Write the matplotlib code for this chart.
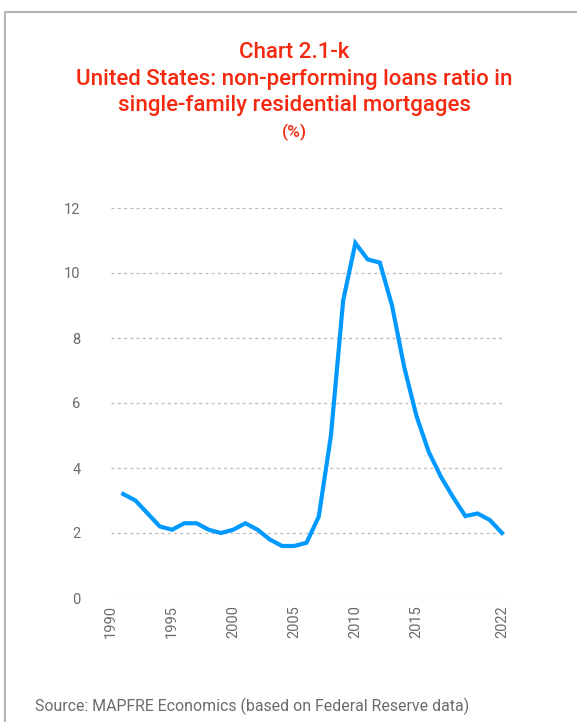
import numpy as np
import matplotlib
matplotlib.use('Agg')
import matplotlib.pyplot as plt
from matplotlib.lines import Line2D

plt.rcParams['font.family'] = ['Roboto', 'DejaVu Sans']

# data (%)
years = list(range(1991, 2023))
npl = [3.2, 3.0, 2.6, 2.2, 2.1, 2.3, 2.3, 2.1, 2.0, 2.1, 2.3, 2.1, 1.8, 1.6,
       1.6, 1.7, 2.5, 5.0, 9.15, 10.92, 10.42, 10.32, 9.0, 7.1, 5.6, 4.5,
       3.73, 3.1, 2.52, 2.6, 2.4, 2.0]
xticks = [1990, 1995, 2000, 2005, 2010, 2015, 2022]
yticks = [0, 2, 4, 6, 8, 10, 12]

title_lines = ['Chart 2.1-k',
               'United States: non-performing loans ratio in',
               'single-family residential mortgages']
unit = '(%)'
source = 'Source: MAPFRE Economics (based on Federal Reserve data)'

red = '#f5290f'
grey_txt = '#6b6b6b'

fig = plt.figure(figsize=(5.77, 7.22), dpi=100)
ax = fig.add_axes([111/577, 1 - 598/722, (502 - 111)/577, (598 - 208)/722])

ax.plot(years, npl, color='#0099ff', lw=3.0, solid_joinstyle='miter',
        clip_on=False)

ax.set_xlim(1990, 2022)
ax.set_ylim(0, 12)
ax.set_xticks(xticks)
ax.set_xticklabels([str(t) for t in xticks], rotation=90)
ax.set_yticks(yticks)
ax.tick_params(axis='both', length=0, colors=grey_txt, labelsize=10.5)
ax.tick_params(axis='y', pad=22)
ax.tick_params(axis='x', pad=5)
ax.grid(axis='y', color='#bdbdbd', lw=0.9, ls=(0, (2.5, 2.5)))
ax.set_axisbelow(True)
for s in ax.spines.values():
    s.set_visible(False)

cx = 294/577
for i, line in enumerate(title_lines):
    fig.text(cx, 1 - (52 + 27*i)/722, line, ha='center', va='center',
             color=red, fontsize=16, fontweight='medium')
fig.text(cx, 1 - 132/722, unit, ha='center', va='center', color=red,
         fontsize=12.5, fontweight='medium')
fig.text(35/577, 1 - 706/722, source, ha='left', va='center',
         color=grey_txt, fontsize=11.4)

# frame on top and left
fig.add_artist(Line2D([5/577, 5/577, 1], [0, 1 - 12/722, 1 - 12/722],
                      transform=fig.transFigure, color='#b5b5b5', lw=1.5))

fig.savefig('out.png', dpi=100)
